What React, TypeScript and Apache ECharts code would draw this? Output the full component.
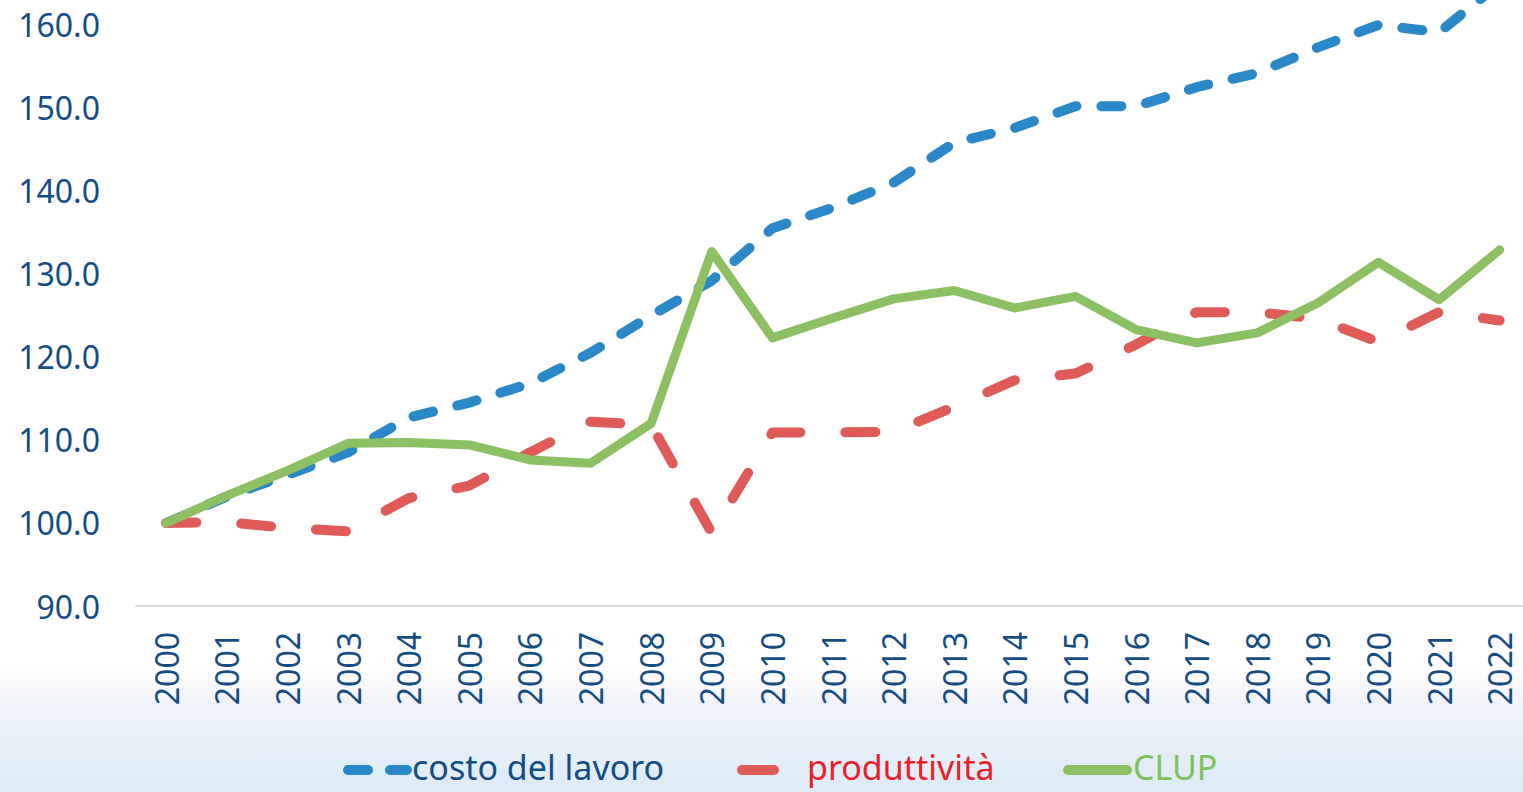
import React, { useEffect, useRef } from "react";
import * as echarts from "echarts";

const years = ["2000","2001","2002","2003","2004","2005","2006","2007","2008","2009","2010","2011","2012","2013","2014","2015","2016","2017","2018","2019","2020","2021","2022"];
const costoLavoro = [100.0,103.2,105.8,108.5,112.7,114.5,116.8,120.5,125.0,129.2,135.5,138.0,141.0,145.8,147.6,150.2,150.2,152.5,154.2,157.3,160.0,159.1,165.0];
const produttivita = [100.0,100.1,99.4,99.0,103.0,104.5,108.5,112.2,111.8,98.8,110.9,110.9,111.0,114.0,117.2,118.0,121.5,125.4,125.4,124.6,121.8,125.4,124.4];
const clup = [100.0,103.3,106.3,109.6,109.7,109.4,107.6,107.2,112.0,132.7,122.3,124.7,127.0,128.0,125.9,127.3,123.3,121.7,122.9,126.5,131.4,126.9,132.9];
const seriesNames = ["costo del lavoro", "produttività", "CLUP"];

const FONT = "'Noto Sans', 'Liberation Sans', sans-serif";
const AXIS_COLOR = "#134d84";
const BLUE = "#2a88c8";
const RED = "#e05a58";
const GREEN = "#8cc063";

export default function App() {
  const ref = useRef<HTMLDivElement>(null);
  useEffect(() => {
    if (!ref.current) return;
    const chart = echarts.init(ref.current, undefined, { renderer: "svg" });
    chart.setOption({
      animation: false,
      backgroundColor: "#ffffff",
      grid: { left: 136, right: 0, top: 0, bottom: 186, containLabel: false },
      xAxis: {
        type: "category",
        data: years,
        boundaryGap: true,
        axisLine: { show: true, lineStyle: { color: "#d9d9d9", width: 2 } },
        axisTick: { show: false },
        axisLabel: {
          rotate: 90,
          margin: 26,
          color: AXIS_COLOR,
          fontFamily: FONT,
          fontSize: 32,
          interval: 0,
        },
      },
      yAxis: {
        type: "value",
        min: 90,
        max: 163,
        interval: 10,
        axisLine: { show: false },
        axisTick: { show: false },
        splitLine: { show: false },
        axisLabel: {
          showMaxLabel: false,
          margin: 36,
          color: AXIS_COLOR,
          fontFamily: FONT,
          fontSize: 32,
          formatter: (v: number) => v.toFixed(1),
        },
      },
      series: [
        {
          name: seriesNames[0],
          type: "line",
          data: costoLavoro,
          showSymbol: false,
          symbol: "none",
          lineStyle: { color: BLUE, width: 10, type: [20, 25], cap: "round", join: "round" },
          z: 2,
        },
        {
          name: seriesNames[1],
          type: "line",
          data: produttivita,
          showSymbol: false,
          symbol: "none",
          lineStyle: { color: RED, width: 10, type: [30, 45], cap: "round", join: "round" },
          z: 3,
        },
        {
          name: seriesNames[2],
          type: "line",
          data: clup,
          showSymbol: false,
          symbol: "none",
          lineStyle: { color: GREEN, width: 9, type: "solid", cap: "round", join: "round" },
          z: 4,
        },
      ],
      graphic: [
        {
          type: "rect",
          z: -10,
          silent: true,
          shape: { x: 0, y: 668, width: 1530, height: 124 },
          style: {
            fill: new echarts.graphic.LinearGradient(0, 0, 0, 1, [
              { offset: 0, color: "#ffffff" },
              { offset: 0.2, color: "#f7f6fa" },
              { offset: 0.3, color: "#eef3f9" },
              { offset: 1, color: "#dcebf7" },
            ]),
          },
        },
        {
          type: "line",
          shape: { x1: 348, y1: 770, x2: 407, y2: 770 },
          style: { stroke: BLUE, lineWidth: 10, lineCap: "round", lineDash: [20, 22] },
        },
        {
          type: "text",
          x: 412,
          y: 767,
          style: { text: seriesNames[0], fill: AXIS_COLOR, font: `34px ${FONT}`, verticalAlign: "middle" },
        },
        {
          type: "line",
          shape: { x1: 742, y1: 770, x2: 774, y2: 770 },
          style: { stroke: RED, lineWidth: 10, lineCap: "round" },
        },
        {
          type: "text",
          x: 807,
          y: 767,
          style: { text: seriesNames[1], fill: "#e8202a", font: `34px ${FONT}`, verticalAlign: "middle" },
        },
        {
          type: "line",
          shape: { x1: 1068, y1: 770, x2: 1127, y2: 770 },
          style: { stroke: GREEN, lineWidth: 10, lineCap: "round" },
        },
        {
          type: "text",
          x: 1133,
          y: 767,
          style: { text: seriesNames[2], fill: "#7cc25a", font: `34px ${FONT}`, verticalAlign: "middle" },
        },
      ],
    });
    return () => chart.dispose();
  }, []);
  return (
    <div style={{ position: "absolute", left: 0, top: 0, width: 1523, height: 792, overflow: "hidden" }}>
      <div ref={ref} style={{ width: 1530, height: 792 }} />
    </div>
  );
}
